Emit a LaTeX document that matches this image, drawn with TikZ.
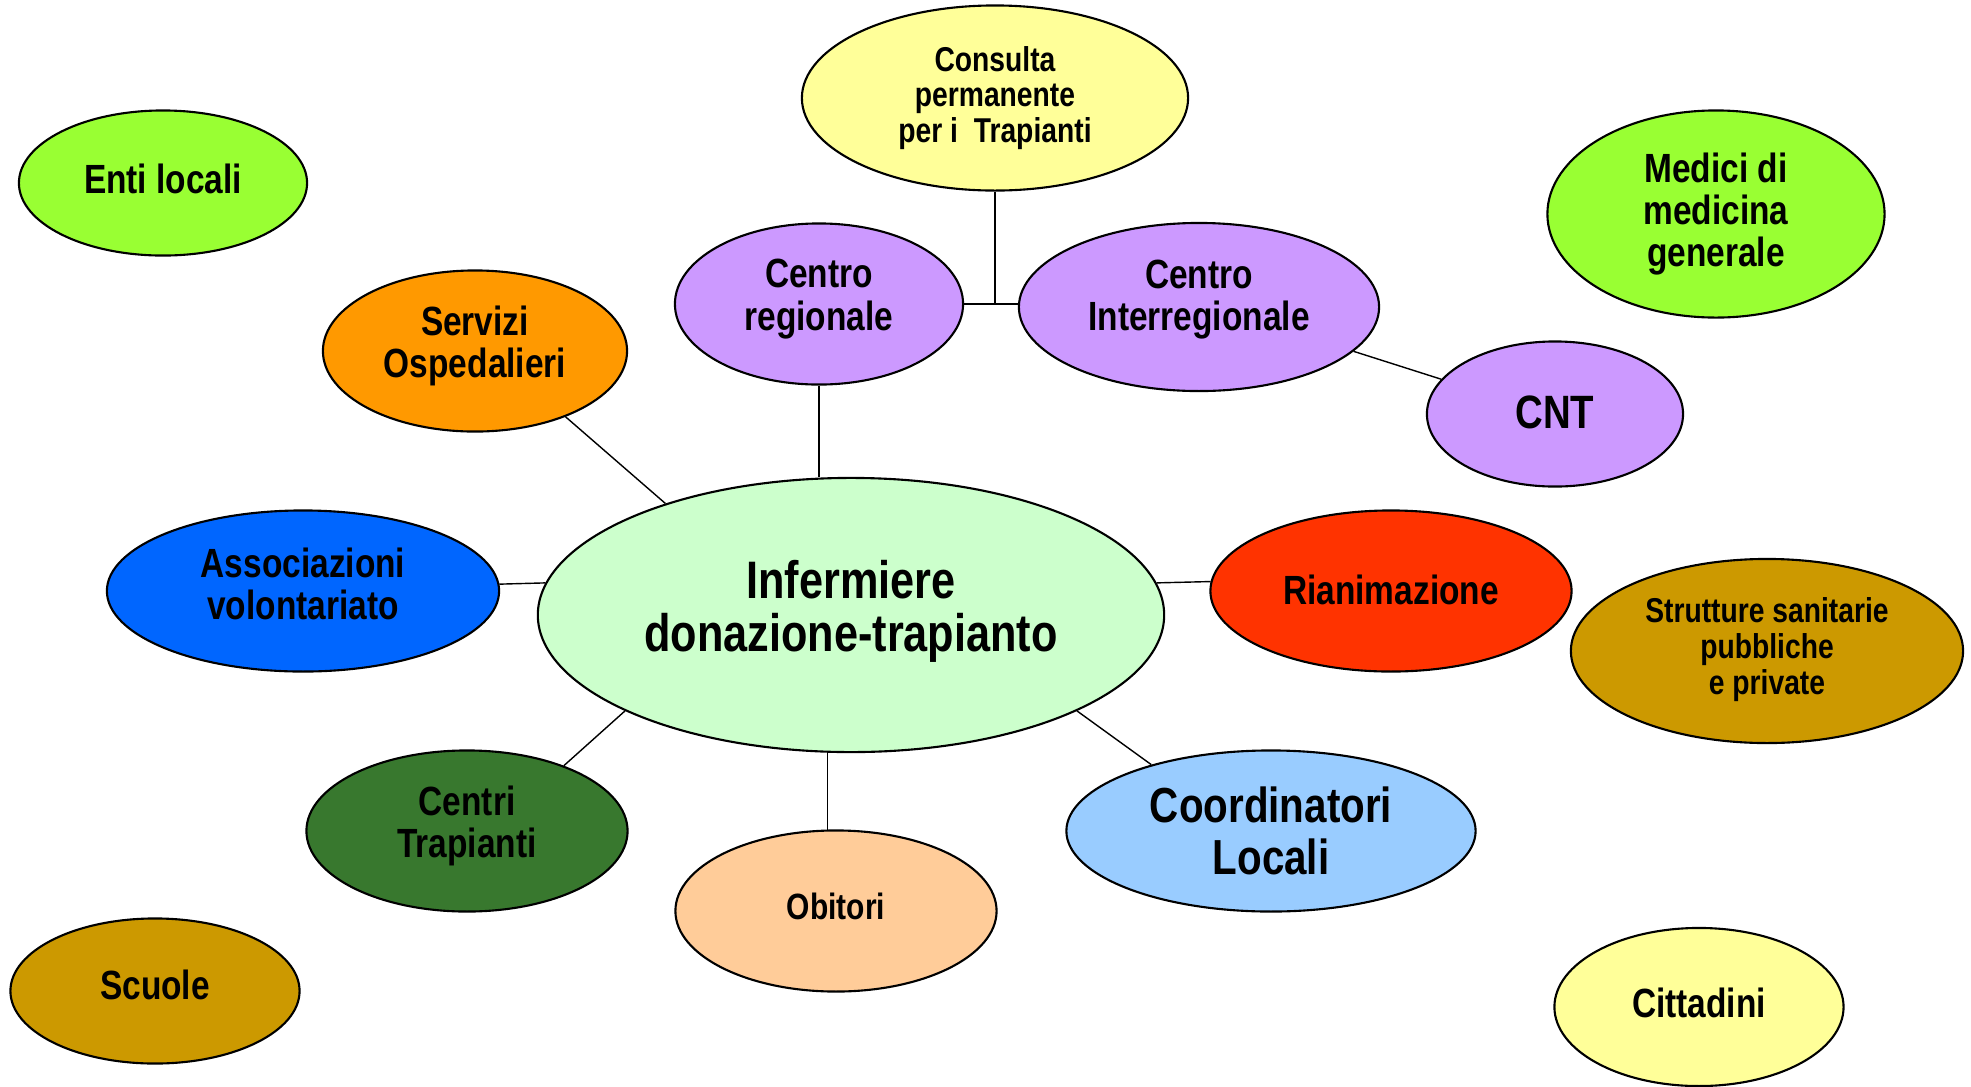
\documentclass[tikz,border=0pt]{standalone}
\usepackage{fontspec}
\setmainfont[FakeStretch=0.82]{Liberation Sans}
\usetikzlibrary{shapes.geometric}
\definecolor{verde}{RGB}{153,255,51}
\definecolor{giallo}{RGB}{255,255,153}
\definecolor{lilla}{RGB}{204,153,255}
\definecolor{arancio}{RGB}{255,153,0}
\definecolor{blu}{RGB}{0,102,255}
\definecolor{menta}{RGB}{204,255,204}
\definecolor{rosso}{RGB}{255,51,0}
\definecolor{ocra}{RGB}{204,153,0}
\definecolor{verdescuro}{RGB}{56,120,46}
\definecolor{pesca}{RGB}{255,204,153}
\definecolor{azzurro}{RGB}{153,204,255}
\begin{document}
\begin{tikzpicture}[x=0.01cm,y=-0.01cm,
    bub/.style={ellipse,draw,line width=0.6pt,inner sep=0pt},
    txt/.style={align=center,inner sep=0pt,font=\bfseries\fontsize{11.6}{12}\selectfont},
    small/.style={font=\bfseries\fontsize{9.8}{10.2}\selectfont}]
  \useasboundingbox (0,0) rectangle (1971,1087);
  % outer ring
  \node[bub,fill=verde,minimum width=2.88cm,minimum height=1.45cm,
    label={[txt,yshift=1.1pt]center:Enti locali}] (ent) at (163,183) {};
  \node[bub,fill=giallo,minimum width=3.86cm,minimum height=1.85cm,
    label={[txt,small]center:{Consulta\\permanente\\per i\ \ Trapianti}}] (con) at (995,98) {};
  \node[bub,fill=verde,minimum width=3.37cm,minimum height=2.07cm,
    label={[txt]center:{Medici di\\medicina\\generale}}] (med) at (1716,214) {};
  \node[bub,fill=arancio,minimum width=3.04cm,minimum height=1.61cm,
    label={[txt,yshift=1.4pt]center:{Servizi\\Ospedalieri}}] (ser) at (475,351) {};
  \node[bub,fill=lilla,minimum width=2.88cm,minimum height=1.61cm,
    label={[txt,yshift=1.4pt]center:{Centro\\regionale}}] (reg) at (819,304) {};
  \node[bub,fill=lilla,minimum width=3.60cm,minimum height=1.68cm,
    label={[txt,yshift=2.1pt]center:{Centro\\Interregionale}}] (int) at (1199,307) {};
  \node[bub,fill=lilla,minimum width=2.56cm,minimum height=1.45cm,
    label={[txt,yshift=0.4pt,font=\bfseries\fontsize{13.3}{14}\selectfont]center:CNT}] (cnt) at (1555,414) {};
  \node[bub,fill=blu,minimum width=3.92cm,minimum height=1.61cm,
    label={[txt,yshift=2.1pt]center:{Associazioni\\volontariato}}] (ass) at (303,591) {};
  \node[bub,fill=menta,minimum width=6.26cm,minimum height=2.74cm,
    label={[txt,yshift=1.1pt,font=\bfseries\fontsize{15}{15}\selectfont]center:{Infermiere\\donazione-trapianto}}] (cen) at (851,615) {};
  \node[bub,fill=rosso,minimum width=3.61cm,minimum height=1.61cm,
    label={[txt,yshift=0.4pt]center:Rianimazione}] (ria) at (1391,591) {};
  \node[bub,fill=ocra,minimum width=3.92cm,minimum height=1.84cm,
    label={[txt,small,yshift=0.4pt]center:{Strutture sanitarie\\pubbliche\\e private}}] (str) at (1767,651) {};
  \node[bub,fill=verdescuro,minimum width=3.21cm,minimum height=1.61cm,
    label={[txt,yshift=1.4pt]center:{Centri\\Trapianti}}] (ctr) at (467,831) {};
  \node[bub,fill=pesca,minimum width=3.21cm,minimum height=1.61cm,
    label={[txt,yshift=1.4pt,font=\bfseries\fontsize{10.4}{11}\selectfont]center:Obitori}] (obi) at (836,911) {};
  \node[bub,fill=azzurro,minimum width=4.09cm,minimum height=1.61cm,
    label={[txt,font=\bfseries\fontsize{14}{14.7}\selectfont]center:{Coordinatori\\Locali}}] (coo) at (1271,831) {};
  \node[bub,fill=ocra,minimum width=2.89cm,minimum height=1.45cm,
    label={[txt,yshift=1.8pt]center:Scuole}] (scu) at (155,991) {};
  \node[bub,fill=giallo,minimum width=2.89cm,minimum height=1.58cm,
    label={[txt,yshift=1.1pt]center:Cittadini}] (cit) at (1699,1007) {};
  % links
  \draw (con.south) -- (con.south |- reg.east);
  \draw (reg.east) -- (reg.east -| int.west);
  \draw (int.-16) -- (cnt.163);
  \draw (reg.south) -- (reg.south |- cen.north);
  \draw (ser.-36) -- (cen.149);
  \draw (ass.2) -- (cen.174);
  \draw (ria.177) -- (cen.6);
  \draw (ctr.34) -- (cen.203);
  \draw (coo.151) -- (cen.-23);
  \draw (obi.96) -- (obi.96 |- cen.south);
\end{tikzpicture}
\end{document}
